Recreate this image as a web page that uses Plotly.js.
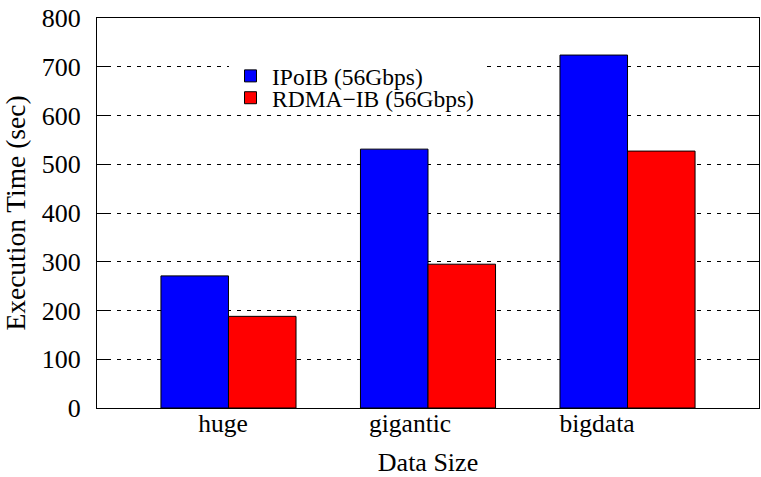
<!DOCTYPE html>
<html>
<head>
<meta charset="utf-8">
<script src="https://cdn.plot.ly/plotly-3.0.1.min.js"></script>
<style>html,body{margin:0;padding:0;background:#fff;}#chart{width:761px;height:477px;}</style>
</head>
<body>
<div id="chart"></div>
<script>
const categories = ["huge", "gigantic", "bigdata"];
const seriesNames = ["IPoIB (56Gbps)", "RDMA\u2212IB (56Gbps)"];
const ipoibValues = [271, 531, 724];
const rdmaValues = [188, 295, 527];
const yTickValues = [0, 100, 200, 300, 400, 500, 600, 700, 800];

const fontFamily = 'Liberation Serif, Times New Roman, DejaVu Serif, serif';

const traces = [
  {
    type: 'bar', name: seriesNames[0], x: categories, y: ipoibValues,
    marker: {color: '#0000ff', line: {color: '#000', width: 1}},
    legend: 'legend', hoverinfo: 'skip'
  },
  {
    type: 'bar', name: seriesNames[1], x: categories, y: rdmaValues,
    marker: {color: '#ff0000', line: {color: '#000', width: 1}},
    legend: 'legend2', hoverinfo: 'skip'
  },
  {
    type: 'scatter', mode: 'markers', x: categories, y: [null, null, null],
    xaxis: 'x2', showlegend: false, hoverinfo: 'skip'
  }
];

const legendCommon = {
  xanchor: 'left', yanchor: 'middle', orientation: 'h',
  borderwidth: 0,
  font: {family: fontFamily, size: 23.5, color: '#000'},
  itemwidth: 33, entrywidth: 210, entrywidthmode: 'pixels'
};

const layout = {
  width: 761, height: 477,
  margin: {l: 97, r: 2, t: 18, b: 69, pad: 0},
  paper_bgcolor: '#fff', plot_bgcolor: '#fff',
  font: {family: fontFamily, color: '#000', size: 25},
  barmode: 'group', bargap: 0.323, bargroupgap: 0,
  showlegend: true,
  legend: Object.assign({x: 0.1994, y: 0.851, bgcolor: '#fff'}, legendCommon),
  legend2: Object.assign({x: 0.1994, y: 0.795, bgcolor: 'rgba(0,0,0,0)'}, legendCommon),
  xaxis: {
    type: 'category', categoryarray: categories,
    range: [-0.659, 2.659],
    showticklabels: false, ticks: '',
    showline: true, linecolor: '#000', linewidth: 1, mirror: true,
    showgrid: false, zeroline: false, fixedrange: true
  },
  xaxis2: {
    type: 'category', categoryarray: categories,
    overlaying: 'x', anchor: 'y', side: 'bottom',
    range: [-0.674, 2.866],
    showline: false, ticks: '', showgrid: false, zeroline: false,
    tickfont: {family: fontFamily, size: 25.5, color: '#000'},
    ticklabelstandoff: -3,
    title: {text: 'Data Size', font: {family: fontFamily, size: 26, color: '#000'}, standoff: 23},
    fixedrange: true
  },
  yaxis: {
    range: [0, 800], tickvals: yTickValues,
    ticks: 'inside', ticklen: 12, tickcolor: '#000', tickwidth: 1,
    showline: true, linecolor: '#000', linewidth: 1, mirror: 'ticks',
    showgrid: true, gridcolor: '#000', gridwidth: 1, griddash: '4px,6px',
    zeroline: false,
    tickfont: {family: fontFamily, size: 26, color: '#000'},
    ticklabelstandoff: 10,
    title: {text: 'Execution Time (sec)', font: {family: fontFamily, size: 27.5, color: '#000'}, standoff: 10},
    fixedrange: true
  }
};

Plotly.newPlot('chart', traces, layout, {staticPlot: true, displayModeBar: false});
</script>
</body>
</html>
